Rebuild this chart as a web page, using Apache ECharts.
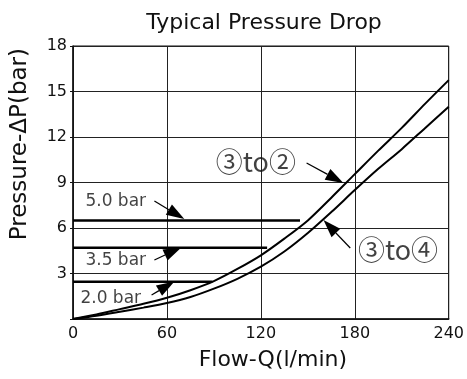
<!DOCTYPE html>
<html>
<head>
<meta charset="utf-8">
<script src="https://cdn.jsdelivr.net/npm/echarts@6/dist/echarts.min.js"></script>
<style>
  html, body { margin: 0; padding: 0; background: #fff; }
  #chart { width: 467px; height: 379px; }
</style>
</head>
<body>
<div id="chart"></div>
<script>
// Flow axis samples (l/min)
const flow = [0, 15, 30, 45, 60, 75, 90, 105, 120, 135, 150, 165, 180, 195, 210, 225, 240];
// Pressure drop curves (bar)
const drop3to2 = [0, 0.3, 0.65, 1.0, 1.4, 1.9, 2.5, 3.3, 4.2, 5.3, 6.5, 8.0, 9.55, 11.1, 12.6, 14.2, 15.75];
const drop3to4 = [0, 0.22, 0.48, 0.75, 1.05, 1.45, 2.0, 2.65, 3.45, 4.45, 5.67, 7.05, 8.5, 9.9, 11.2, 12.6, 14.0];

// Relief settings: label, level (bar), flow at which the line ends
const settingNames = ['5.0 bar', '3.5 bar', '2.0 bar'];
const settingLevels = [6.5, 4.7, 2.45];
const settingEnds = [145, 124, 89];

// Label anchors and arrow tail/tip, in [flow, pressure]
const settingLabelPos = [[27.3, 7.71], [27.3, 3.82], [24.1, 1.32]];
const settingArrowFrom = [[52, 7.78], [52, 3.89], [50.2, 1.58]];
const settingArrowTo = [[71.1, 6.6], [69.2, 4.72], [64.8, 2.48]];

const curveNames = ['③to②', '③to④'];
const curveLabelPos = [[116.8, 10.35], [207.6, 4.55]];
const curveArrowFrom = [[149.2, 10.28], [177.1, 4.68]];
const curveArrowTo = [[172.7, 8.97], [160, 6.53]];

const xTicks = [0, 60, 120, 180, 240];
const yTicks = [0, 3, 6, 9, 12, 15, 18];

const FONT = 'DejaVu Sans';
const CJK = 'Noto Sans CJK JP';
const INK = '#111';

const chart = echarts.init(document.getElementById('chart'), null, { renderer: 'canvas' });

const series = [];

series.push({
  type: 'line', name: '③to②', smooth: 0.3, symbol: 'none',
  data: flow.map((f, i) => [f, drop3to2[i]]),
  lineStyle: { color: '#000', width: 2 }, z: 5
});
series.push({
  type: 'line', name: '③to④', smooth: 0.3, symbol: 'none',
  data: flow.map((f, i) => [f, drop3to4[i]]),
  lineStyle: { color: '#000', width: 2 }, z: 5
});

settingLevels.forEach((lv, i) => {
  series.push({
    type: 'line', symbol: 'none',
    data: [[0, lv], [settingEnds[i], lv]],
    lineStyle: { color: '#000', width: 2.5 }, z: 4
  });
});

// Text labels
series.push({
  type: 'scatter', symbolSize: 0, z: 6,
  data: settingNames.map((n, i) => [settingLabelPos[i][0], settingLabelPos[i][1], n]),
  label: {
    show: true, position: 'inside', formatter: p => p.data[2],
    fontFamily: FONT, fontSize: 17, color: INK
  }
});
series.push({
  type: 'scatter', symbolSize: 0, z: 6,
  data: curveNames.map((n, i) => [curveLabelPos[i][0], curveLabelPos[i][1], n]),
  label: {
    show: true, position: 'inside', formatter: p => p.data[2],
    fontFamily: CJK, fontSize: 27, color: INK
  }
});

chart.setOption({
  animation: false,
  backgroundColor: '#fff',
  title: {
    text: 'Typical Pressure Drop', left: 259, top: 7, textAlign: 'center',
    textStyle: { fontFamily: FONT, fontSize: 22, fontWeight: 'normal', color: INK }
  },
  grid: { left: 73, right: 16, top: 46, bottom: 60, show: true, borderColor: '#111', borderWidth: 1 },
  xAxis: {
    type: 'value', min: 0, max: 240, interval: 60,
    name: 'Flow-Q(l/min)', nameLocation: 'middle', nameGap: 30,
    nameTextStyle: { fontFamily: FONT, fontSize: 22, color: INK, padding: [0, 0, 0, 24] },
    axisLine: { show: true, lineStyle: { color: '#111', width: 1.5 } },
    axisTick: { show: false },
    axisLabel: { fontFamily: FONT, fontSize: 16, color: INK, margin: 7,
      formatter: v => xTicks.includes(v) ? String(v) : '' },
    splitLine: { show: true, lineStyle: { color: '#222', width: 1 } }
  },
  yAxis: {
    type: 'value', min: 0, max: 18, interval: 3,
    axisLine: { show: true, lineStyle: { color: '#111', width: 1.5 } },
    axisTick: { show: true, length: 3, lineStyle: { color: '#111' } },
    axisLabel: { fontFamily: FONT, fontSize: 16, color: INK, margin: 6,
      formatter: v => (v === 0 || !yTicks.includes(v)) ? '' : String(v) },
    splitLine: { show: true, lineStyle: { color: '#222', width: 1 } }
  },
  series: series
});

// Leader arrows: thin shaft plus filled head whose tip sits on the target point
const HEAD_LEN = 18, HEAD_HALF = 6;
const arrowPairs = [];
settingArrowFrom.forEach((p, i) => arrowPairs.push([p, settingArrowTo[i]]));
curveArrowFrom.forEach((p, i) => arrowPairs.push([p, curveArrowTo[i]]));

const graphics = [];
arrowPairs.forEach(([from, to]) => {
  const a = chart.convertToPixel({ gridIndex: 0 }, from);
  const b = chart.convertToPixel({ gridIndex: 0 }, to);
  const dx = b[0] - a[0], dy = b[1] - a[1];
  const len = Math.hypot(dx, dy);
  const ux = dx / len, uy = dy / len;
  const bx = b[0] - ux * HEAD_LEN, by = b[1] - uy * HEAD_LEN;
  graphics.push({
    type: 'line', z: 10,
    shape: { x1: a[0], y1: a[1], x2: bx, y2: by },
    style: { stroke: '#000', lineWidth: 1.2 }
  });
  graphics.push({
    type: 'polygon', z: 10,
    shape: { points: [
      [b[0], b[1]],
      [bx - uy * HEAD_HALF, by + ux * HEAD_HALF],
      [bx + uy * HEAD_HALF, by - ux * HEAD_HALF]
    ] },
    style: { fill: '#000' }
  });
});

// Vertical axis title
graphics.push({
  type: 'text', left: 9, top: 48, rotation: Math.PI / 2,
  style: { text: 'Pressure-ΔP(bar)', fontFamily: FONT, fontSize: 23, fill: INK }
});

chart.setOption({ graphic: graphics });
</script>
</body>
</html>
